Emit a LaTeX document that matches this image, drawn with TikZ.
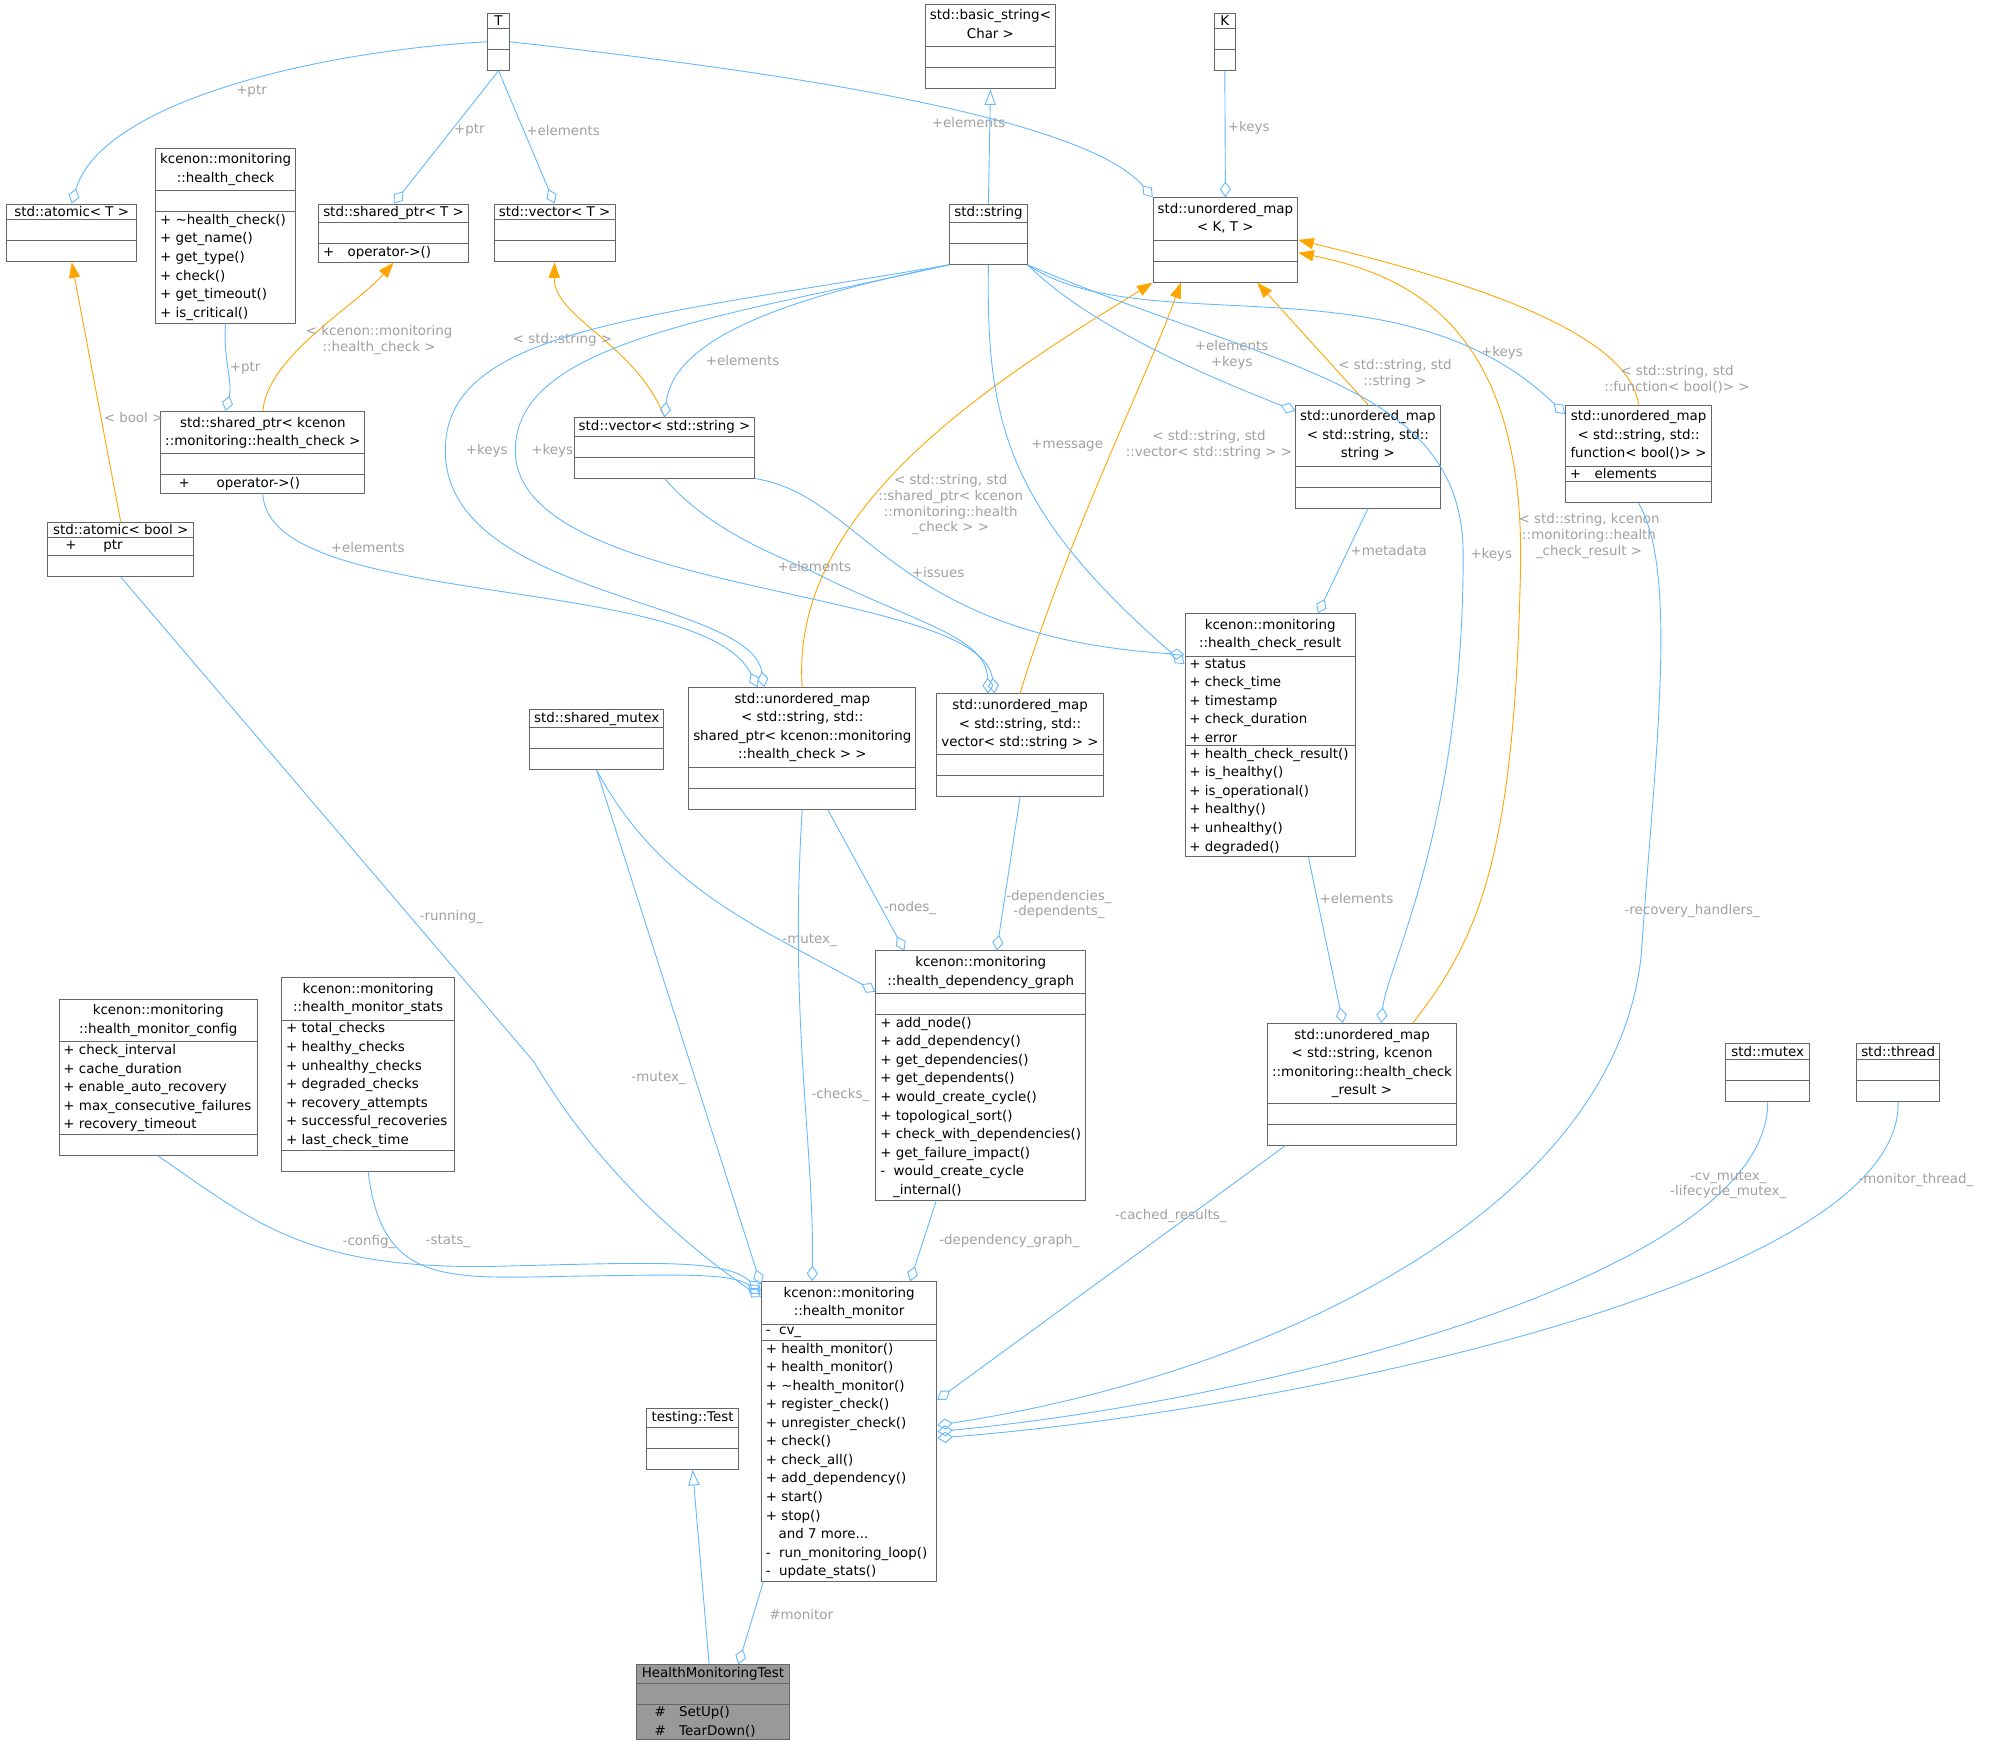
\documentclass[tikz,border=0pt]{standalone}
\usepackage{fontspec}
\setmainfont{DejaVu Sans}
\usetikzlibrary{shapes.multipart,arrows.meta}
\definecolor{edgeblue}{HTML}{63B8FF}
\definecolor{boxgray}{HTML}{666666}
\definecolor{lblgray}{HTML}{A0A0A0}
\definecolor{tmplorange}{HTML}{FFA500}
\tikzset{
  cls/.style={rectangle split, rectangle split parts=3, draw=boxgray, anchor=north west,
    font=\fontsize{6}{8.3}\selectfont, inner xsep=2pt, inner ysep=1pt, align=left,
    rectangle split part align={center,left,left}, rectangle split empty part height=7pt},
  agg/.style={draw=edgeblue, -{Diamond[open,length=7pt,width=5pt]}},
  inh/.style={draw=edgeblue, -{Triangle[open,length=7pt,width=5pt]}},
  tmpl/.style={draw=tmplorange, -{Triangle[length=7pt,width=5pt]}},
  lbl/.style={font=\fontsize{6}{7}\selectfont, text=lblgray, align=center, inner sep=1pt}
}
\newcommand\ttl[1]{\begin{tabular}{@{}c@{}}#1\end{tabular}}
\newcommand\cls[7][]{\node[cls,minimum width=#5*0.02cm,#1] (#2) at (#3,#4) {#6 \nodepart{second}#7 \nodepart{third}};}
\begin{document}
\begin{tikzpicture}[x=0.02cm,y=-0.02cm]
\useasboundingbox (0,0) rectangle (1568,1380);
% top row
\cls{T}{383}{10}{17}{T}{}
\cls{bstr}{727}{3}{101}{\ttl{std::basic\_string<\\Char >}}{}
\cls{K}{954}{10}{16}{K}{}
\node[cls,minimum width=102*0.02cm] (atomT) at (5,160) {std::atomic< T > \nodepart{second} \nodepart{third}};
\node[cls,minimum width=110*0.02cm] (hc) at (122,116) {\ttl{kcenon::monitoring\\::health\_check} \nodepart{second} \nodepart{third}+ \textasciitilde health\_check()\\+ get\_name()\\+ get\_type()\\+ check()\\+ get\_timeout()\\+ is\_critical()};
\node[cls,minimum width=118*0.02cm] (spT) at (250,160) {std::shared\_ptr< T > \nodepart{second} \nodepart{third}+\quad operator->()};
\cls{vecT}{388}{160}{95}{std::vector< T >}{}
\cls{str}{746}{160}{61}{std::string}{}
\cls{umKT}{906}{155}{112}{\ttl{std::unordered\_map\\< K, T >}}{}
% second row
\node[cls,minimum width=160*0.02cm] (sphc) at (126,323) {\ttl{std::shared\_ptr< kcenon\\::monitoring::health\_check >} \nodepart{second} \nodepart{third}\quad+\qquad operator->()};
\cls{vecstr}{451}{328}{140}{std::vector< std::string >}{}
\cls{umss}{1018}{318}{113}{\ttl{std::unordered\_map\\< std::string, std::\\string >}}{}
\node[cls,minimum width=115*0.02cm] (umfn) at (1230,318) {\ttl{std::unordered\_map\\< std::string, std::\\function< bool()> >} \nodepart{second}+\quad elements \nodepart{third}};
\node[cls,minimum width=115*0.02cm] (atomb) at (37,410) {std::atomic< bool > \nodepart{second}\quad+\qquad ptr \nodepart{third}};
\node[cls,minimum width=134*0.02cm] (hcr) at (931,482) {\ttl{kcenon::monitoring\\::health\_check\_result} \nodepart{second}+ status\\+ check\_time\\+ timestamp\\+ check\_duration\\+ error \nodepart{third}+ health\_check\_result()\\+ is\_healthy()\\+ is\_operational()\\+ healthy()\\+ unhealthy()\\+ degraded()};
% middle row
\cls{smtx}{416}{557}{105}{std::shared\_mutex}{}
\cls{umsp}{541}{540}{176}{\ttl{std::unordered\_map\\< std::string, std::\\shared\_ptr< kcenon::monitoring\\::health\_check > >}}{}
\cls{umvec}{736}{545}{130}{\ttl{std::unordered\_map\\< std::string, std::\\vector< std::string > >}}{}
\node[cls,minimum width=165*0.02cm] (graph) at (688,747) {\ttl{kcenon::monitoring\\::health\_dependency\_graph} \nodepart{second} \nodepart{third}+ add\_node()\\+ add\_dependency()\\+ get\_dependencies()\\+ get\_dependents()\\+ would\_create\_cycle()\\+ topological\_sort()\\+ check\_with\_dependencies()\\+ get\_failure\_impact()\\-\ \ would\_create\_cycle\\\ \ \ \_internal()};
\node[cls,minimum width=156*0.02cm] (cfg) at (46,785) {\ttl{kcenon::monitoring\\::health\_monitor\_config} \nodepart{second}+ check\_interval\\+ cache\_duration\\+ enable\_auto\_recovery\\+ max\_consecutive\_failures\\+ recovery\_timeout \nodepart{third}};
\node[cls,minimum width=136*0.02cm] (stats) at (221,768) {\ttl{kcenon::monitoring\\::health\_monitor\_stats} \nodepart{second}+ total\_checks\\+ healthy\_checks\\+ unhealthy\_checks\\+ degraded\_checks\\+ recovery\_attempts\\+ successful\_recoveries\\+ last\_check\_time \nodepart{third}};
\cls{umhcr}{996}{804}{147}{\ttl{std::unordered\_map\\< std::string, kcenon\\::monitoring::health\_check\\\_result >}}{}
\cls{mtx}{1356}{820}{66}{std::mutex}{}
\cls{thr}{1459}{820}{64}{std::thread}{}
% bottom
\node[cls,minimum width=138*0.02cm] (mon) at (598,1007) {\ttl{kcenon::monitoring\\::health\_monitor} \nodepart{second}-\ \ cv\_ \nodepart{third}+ health\_monitor()\\+ health\_monitor()\\+ \textasciitilde health\_monitor()\\+ register\_check()\\+ unregister\_check()\\+ check()\\+ check\_all()\\+ add\_dependency()\\+ start()\\+ stop()\\\ \ \ and 7 more...\\-\ \ run\_monitoring\_loop()\\-\ \ update\_stats()};
\cls{gtest}{508}{1107}{72}{testing::Test}{}
\node[cls,minimum width=120*0.02cm,fill=black!40] (hmt) at (500,1308) {HealthMonitoringTest \nodepart{second} \nodepart{third}\quad\#\quad SetUp()\\\quad\#\quad TearDown()};
% template parameters
\draw[agg] (T.west) .. controls (250,40) and (80,80) .. node[lbl,pos=.45,below=1pt]{+ptr} (atomT.north);
\draw[agg] (T.south) -- node[lbl,pos=.45,right]{+ptr} (spT.north);
\draw[agg] (T.south) -- node[lbl,pos=.45,right]{+elements} (vecT.north);
\draw[agg] (T.east) .. controls (600,55) and (850,90) .. node[lbl,pos=.6,below]{+elements} (umKT.north west);
\draw[agg] (K.south) -- node[lbl,pos=.45,right]{+keys} (umKT.north);
\draw[inh] (str.north) -- (bstr.south);
% template instances
\draw[tmpl] (atomb.north) -- node[lbl,pos=.4,right]{< bool >} (atomT.south);
\draw[tmpl] (sphc.north) .. controls (210,280) and (280,240) .. node[lbl,pos=.45,right=-2pt]{< kcenon::monitoring\\::health\_check >} (spT.south);
\draw[tmpl] (vecstr.north) .. controls (500,270) and (435,250) .. node[lbl,pos=.45,left=-4pt]{< std::string >} (vecT.south);
\draw[tmpl] (umsp.north) .. controls (620,400) and (780,300) .. node[lbl,pos=.38,right=4pt]{< std::string, std\\::shared\_ptr< kcenon\\::monitoring::health\\\_check > >} (umKT.south west);
\draw[tmpl] (umvec.north) .. controls (840,420) and (900,300) .. node[lbl,pos=.55,right=4pt]{< std::string, std\\::vector< std::string > >} ([xshift=-0.7cm]umKT.south);
\draw[tmpl] (umss.north) -- node[lbl,pos=.25,right=-2pt]{< std::string, std\\::string >} ([xshift=0.5cm]umKT.south);
\draw[tmpl] (umfn.north) .. controls (1280,260) and (1150,220) .. node[lbl,pos=.12,right=-12pt]{< std::string, std\\::function< bool()> >} (umKT.east);
\draw[tmpl] ([xshift=0.8cm]umhcr.north) .. controls (1160,740) and (1190,680) .. (1195,450) .. controls (1200,250) and (1100,215) .. node[lbl,pos=.05,right=-2pt]{< std::string, kcenon\\::monitoring::health\\\_check\_result >} ([yshift=-0.2cm]umKT.east);
% members
\draw[agg] (hc.south) .. controls (175,280) and (183,300) .. node[lbl,pos=.5,right]{+ptr} (sphc.north -| hc.south);
\draw[agg] (str.south west) .. controls (640,230) and (530,260) .. node[lbl,pos=.75,right=4pt]{+elements} (vecstr.north);
\draw[agg] (str.south west) .. controls (500,250) and (350,260) .. (350,354) node[lbl,right=8pt]{+keys} .. controls (350,470) and (590,470) .. ([xshift=-0.6cm]umsp.north);
\draw[agg] (str.south west) .. controls (560,250) and (405,270) .. (405,354) node[lbl,right=6pt]{+keys} .. controls (405,470) and (770,460) .. ([xshift=-0.4cm]umvec.north);
\draw[agg] (str.south) .. controls (775,330) and (790,400) .. node[lbl,pos=.45,right=8pt]{+message} ([yshift=-0.8cm]hcr.north west);
\draw[agg] (str.south east) .. controls (860,260) and (960,300) .. node[lbl,pos=.75,above=6pt]{+elements\\+keys} ([yshift=-0.1cm]umss.north west);
\draw[agg] (str.south east) .. controls (900,270) and (1100,200) .. node[lbl,pos=.88,above=2pt]{+keys} ([yshift=-0.15cm]umfn.north west);
\draw[agg] (str.south east) .. controls (1000,290) and (1150,300) .. (1150,436) node[lbl,right=2pt]{+keys} .. controls (1150,650) and (1090,760) .. ([xshift=0.3cm]umhcr.north);
\draw[agg] (vecstr.south east) .. controls (680,390) and (700,500) .. node[lbl,pos=.6,above=4pt]{+issues} ([yshift=-0.65cm]hcr.north west);
\draw[agg] (vecstr.south) .. controls (560,420) and (620,440) .. (640,450) node[lbl,above=-1pt]{+elements} .. controls (720,490) and (775,500) .. ([xshift=-0.5cm]umvec.north);
\draw[agg] (sphc.south) .. controls (210,480) and (550,450) .. node[lbl,pos=.2,right=8pt]{+elements} ([xshift=-0.7cm]umsp.north);
\draw[agg] (umss.south) -- node[lbl,pos=.4,right]{+metadata} ([xshift=0.75cm]hcr.north);
\draw[agg] ([xshift=0.6cm]hcr.south) -- node[lbl,pos=.25,right]{+elements} ([xshift=-0.3cm]umhcr.north);
% graph members
\draw[agg] (smtx.south) .. controls (520,700) and (600,730) .. node[lbl,pos=.8,above=3pt]{-mutex\_} ([yshift=-0.65cm]graph.north west);
\draw[agg] ([xshift=0.4cm]umsp.south) -- node[lbl,pos=.7,right]{-nodes\_} ([xshift=-1.2cm]graph.north);
\draw[agg] (umvec.south) -- node[lbl,pos=.7,right]{-dependencies\_\\-dependents\_} ([xshift=0.25cm]graph.north);
% monitor members
\draw[agg] (atomb.south) -- (420,835) node[lbl,pos=.7,right=3pt]{-running\_} .. controls (470,920) and (540,980) .. ([yshift=-0.25cm]mon.north west);
\draw[agg] (smtx.south) -- node[lbl,pos=.6,left=3pt]{-mutex\_} ([yshift=-0.05cm]mon.north west);
\draw[agg] (umsp.south) .. controls (620,800) and (640,900) .. node[lbl,pos=.55,right=2pt]{-checks\_} ([xshift=-0.58cm]mon.north);
\draw[agg] ([xshift=-0.7cm]graph.south) -- node[lbl,pos=.5,right=6pt]{-dependency\_graph\_} ([xshift=0.96cm]mon.north);
\draw[agg] (cfg.south) .. controls (200,960) and (240,1000) .. (400,995) .. controls (520,992) and (570,990) .. ([yshift=-0.15cm]mon.north west);
\node[lbl] (cfglbl) at (290,976) {-config\_};
\node[lbl] (statslbl) at (352,976) {-stats\_};
\draw[agg] (stats.south) .. controls (300,1010) and (350,1005) .. (450,1003) .. controls (530,1002) and (575,1000) .. ([yshift=-0.2cm]mon.north west);
\draw[agg] ([xshift=-1.2cm]umhcr.south) -- node[lbl,pos=.33,above=2pt]{-cached\_results\_} ([yshift=0.5cm]mon.east);
\draw[agg] (umfn.south) .. controls (1320,450) and (1300,600) .. (1290,750) .. controls (1270,950) and (1000,1080) .. ([yshift=0.1cm]mon.east);
\node[lbl] (rhlbl) at (1330,716) {-recovery\_handlers\_};
\draw[agg] (mtx.south) .. controls (1390,1000) and (1000,1100) .. node[lbl,pos=.17]{-cv\_mutex\_\\-lifecycle\_mutex\_} (mon.east);
\draw[agg] (thr.south) .. controls (1495,1010) and (1000,1110) .. node[lbl,pos=.15,right=-2pt]{-monitor\_thread\_} ([yshift=-0.1cm]mon.east);
\draw[agg] ([xshift=-1.35cm]mon.south) -- node[lbl,pos=.4,right=6pt]{\#monitor} ([xshift=0.4cm]hmt.north);
\draw[inh] ([xshift=-0.06cm]hmt.north) -- (gtest.south);
\end{tikzpicture}
\end{document}
